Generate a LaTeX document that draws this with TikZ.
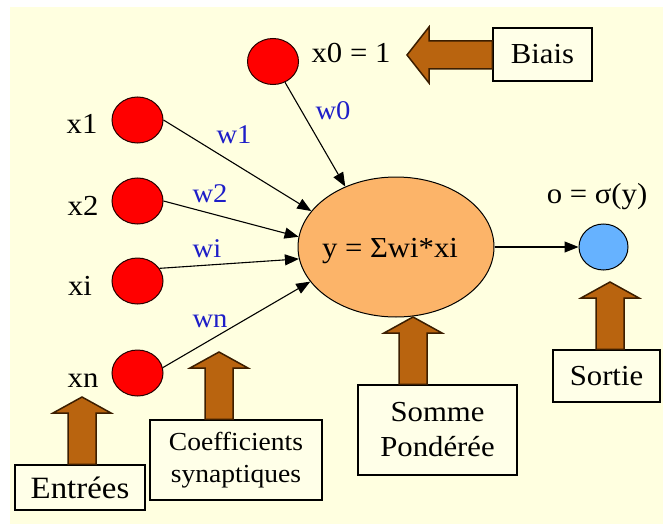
\documentclass[tikz,border=0pt]{standalone}
\usepackage{fontspec}
\setmainfont{Liberation Serif}[FakeStretch=1.06]
\usetikzlibrary{arrows.meta,calc,shapes.geometric}

\definecolor{paper}{RGB}{255,255,224}
\definecolor{boxfill}{RGB}{255,255,232}
\definecolor{neuron}{RGB}{255,0,0}
\definecolor{sommecol}{RGB}{252,180,105}
\definecolor{sortiecol}{RGB}{102,178,255}
\definecolor{bronze}{RGB}{185,100,15}
\definecolor{bronzeedge}{RGB}{60,30,0}
\definecolor{poids}{RGB}{30,30,200}

\tikzset{
  entree/.style={ellipse, draw=black!85!red, line width=1pt, fill=neuron,
    minimum width=51pt, minimum height=46pt, inner sep=0pt},
  lbl/.style={anchor=base, inner sep=0pt, font=\fontsize{29}{32}\selectfont},
  wlbl/.style={lbl, text=poids, font=\fontsize{27}{30}\selectfont},
  cadre/.style={draw, line width=1.2pt, fill=boxfill, inner sep=0pt, align=center},
  fleche/.style={draw, line width=1.1pt, -{Triangle[length=14pt,width=11pt]}},
  bloc/.style={fill=bronze, draw=bronzeedge, line width=1.5pt, line join=miter},
}

% wide arrow pointing up, from a base point to a tip point
\newcommand\flecheHaut[2]{%
  \path[bloc] let \p1=(#1), \p2=(#2) in
    (\x2-14pt,\y1) -- (\x2-14pt,\y2-16pt) -- (\x2-29pt,\y2-16pt) -- (\x2,\y2)
    -- (\x2+29pt,\y2-16pt) -- (\x2+14pt,\y2-16pt) -- (\x2+14pt,\y1) -- cycle;}
% wide arrow pointing left, from a base point to a tip point
\newcommand\flecheGauche[2]{%
  \path[bloc] let \p1=(#1), \p2=(#2) in
    (\x1,\y2-14pt) -- (\x2+22pt,\y2-14pt) -- (\x2+22pt,\y2-28pt) -- (\x2,\y2)
    -- (\x2+22pt,\y2+28pt) -- (\x2+22pt,\y2+14pt) -- (\x1,\y2+14pt) -- cycle;}

\begin{document}
\begin{tikzpicture}[x=1pt, y=-1pt]
  \useasboundingbox (0,0) rectangle (663,524);
  \fill[paper] (10,7) rectangle (663,524);

  % inputs
  \node[entree] (x0) at (273,61.5) {};
  \node[entree] (x1) at (137.5,120) {};
  \node[entree] (x2) at (137.5,201) {};
  \node[entree] (xi) at (137.5,281) {};
  \node[entree] (xn) at (137.5,373) {};

  \node[lbl] (lx0) at (351,63) {x0 = 1};
  \node[lbl] (lx1) at (82,133) {x1};
  \node[lbl] (lx2) at (83,215) {x2};
  \node[lbl] (lxi) at (80,295) {xi};
  \node[lbl] (lxn) at (83,387) {xn};

  % weighted sum and output
  \node[ellipse, draw, line width=1pt, fill=sommecol, minimum width=196pt,
        minimum height=140pt, inner sep=0pt] (sum) at (396,247) {};
  \node[lbl] (formule) at (390,257) {y = Σwi*xi};
  \node[ellipse, draw, line width=1pt, fill=sortiecol, minimum width=49pt,
        minimum height=46pt, inner sep=0pt] (out) at (603.5,247) {};
  \node[lbl] (lout) at (597,203) {o = σ(y)};

  % synapses
  \draw[fleche] (x0.-60) -- (sum.130);
  \draw[fleche] (x1.east) -- (sum.157);
  \draw[fleche] (x2.east) -- (sum.174);
  \draw[fleche] (xi.30) -- (sum.187);
  \draw[fleche] (xn.12) -- (sum.202);
  \draw[fleche] (sum.east) -- (out.west);

  \node[wlbl] (w0) at (333,120) {w0};
  \node[wlbl] (w1) at (234,143) {w1};
  \node[wlbl] (w2) at (210,202) {w2};
  \node[wlbl] (wi) at (207,257) {wi};
  \node[wlbl] (wn) at (210,327) {wn};

  % tips of the wide arrows
  \coordinate (tbiais) at (407,55);
  \coordinate (tent) at (82,397);
  \coordinate (tcoef) at (219,352);
  \coordinate (tsomme) at (413,317);
  \coordinate (tsortie) at (610,282);

  % caption boxes
  \node[cadre, minimum width=99pt, minimum height=53pt,
        font=\fontsize{29}{32}\selectfont] (biais) at (542.5,54.5) {Biais};
  \node[cadre, minimum width=130pt, minimum height=45pt,
        font=\fontsize{31}{34}\selectfont] (ent) at (80,487.5) {Entrées};
  \node[cadre, minimum width=172pt, minimum height=80pt,
        font=\fontsize{26}{32}\selectfont] (coef) at (236,460) {Coefficients\\synaptiques};
  \node[cadre, minimum width=159pt, minimum height=90pt,
        font=\fontsize{29}{35}\selectfont] (somme) at (437.5,430) {Somme\\Pondérée};
  \node[cadre, minimum width=107pt, minimum height=52pt,
        font=\fontsize{29}{32}\selectfont] (sortie) at (606.5,376) {Sortie};

  \flecheGauche{biais.west}{tbiais}
  \flecheHaut{ent.north}{tent}
  \flecheHaut{coef.north}{tcoef}
  \flecheHaut{somme.north}{tsomme}
  \flecheHaut{sortie.north}{tsortie}
\end{tikzpicture}
\end{document}
